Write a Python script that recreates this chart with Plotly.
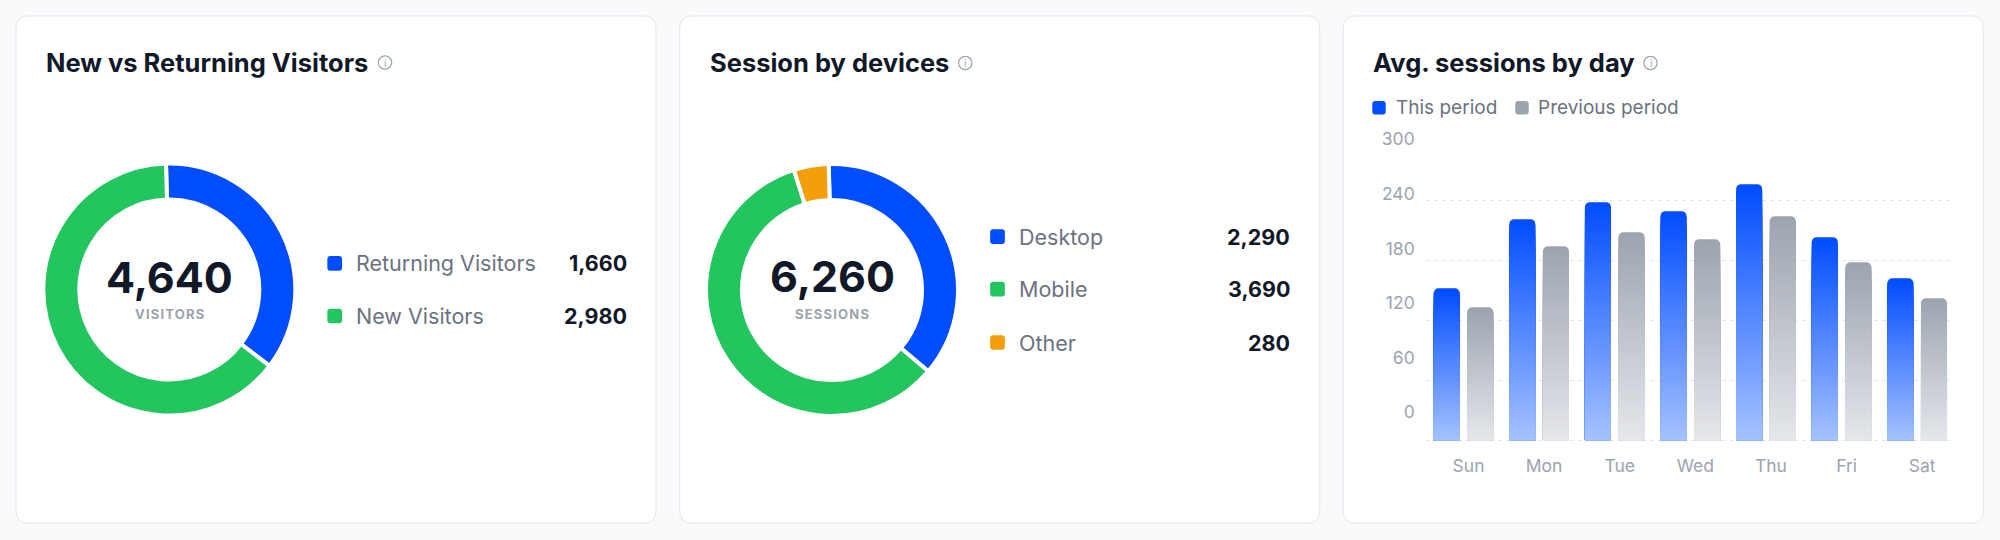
import plotly.graph_objects as go

W, H = 2000, 540

# ---------------- data ----------------
visitor_labels = ["Returning Visitors", "New Visitors"]
visitor_values = [1660, 2980]
device_labels = ["Desktop", "Mobile", "Other"]
device_values = [2290, 3690, 280]
days = ["Sun", "Mon", "Tue", "Wed", "Thu", "Fri", "Sat"]
this_period = [152, 221, 238, 229, 256, 203, 162]
previous_period = [133, 194, 208, 201, 224, 178, 142]
y_ticks = [0, 60, 120, 180, 240, 300]

# ---------------- style ----------------
BLUE = "#004cff"
GREEN = "#22c55e"
ORANGE = "#f59e0b"
GRAY = "#9ca3af"
TITLE_C = "#111827"
LABEL_C = "#6b7280"
FONT = "Inter"


def px(x):
    return x / W


def py(y):
    return 1 - y / H


def rrect_path(x0, y0, x1, y1, r):
    pts = [
        ("M", [(x0 + r, y0)]), ("L", [(x1 - r, y0)]), ("Q", [(x1, y0), (x1, y0 + r)]),
        ("L", [(x1, y1 - r)]), ("Q", [(x1, y1), (x1 - r, y1)]), ("L", [(x0 + r, y1)]),
        ("Q", [(x0, y1), (x0, y1 - r)]), ("L", [(x0, y0 + r)]), ("Q", [(x0, y0), (x0 + r, y0)]),
    ]
    s = ""
    for cmd, ps in pts:
        s += cmd + " " + " ".join(f"{px(a):.6f},{py(b):.6f}" for a, b in ps) + " "
    return s + "Z"


shapes = []
annotations = []


def ann(x, y, text, size, color, weight=400, xanchor="left"):
    annotations.append(dict(
        x=px(x), y=py(y), xref="paper", yref="paper", text=text, showarrow=False,
        xanchor=xanchor, yanchor="middle", borderpad=0,
        font=dict(family=FONT, size=size, color=color, weight=weight)))


def square(cx, cy, s, color, r=3):
    shapes.append(dict(type="path", xref="paper", yref="paper", layer="above",
                       path=rrect_path(cx - s / 2, cy - s / 2, cx + s / 2, cy + s / 2, r),
                       fillcolor=color, line=dict(width=0)))


def info_icon(cx, cy):
    r = 6.7
    shapes.append(dict(type="circle", xref="paper", yref="paper", layer="above",
                       x0=px(cx - r), x1=px(cx + r), y0=py(cy + r), y1=py(cy - r),
                       line=dict(color=GRAY, width=1.2), fillcolor="rgba(0,0,0,0)"))
    ann(cx, cy + 0.5, "i", 10, GRAY, 400, "center")


# cards
card_x = [16, 679.7, 1343.3]
for cx0 in card_x:
    shapes.append(dict(type="path", xref="paper", yref="paper", layer="below",
                       path=rrect_path(cx0, 16, cx0 + 640, 523, 12),
                       fillcolor="#ffffff", line=dict(color="#e5e7eb", width=1)))

fig = go.Figure()

# ---------------- donuts ----------------
LW = 4
R_OUT = 124 + LW / 2
HOLE = (92 - LW / 2) / R_OUT


def donut(values, labels, colors, cx, cy):
    fig.add_trace(go.Pie(
        values=values, labels=labels, sort=False, direction="clockwise", rotation=-1.5,
        hole=HOLE, textinfo="none", showlegend=False, automargin=False,
        marker=dict(colors=colors, line=dict(color="#ffffff", width=LW)),
        domain=dict(x=[px(cx - R_OUT), px(cx + R_OUT)], y=[py(cy + R_OUT), py(cy - R_OUT)])))


donut(visitor_values, visitor_labels, [BLUE, GREEN], 169.3, 289.5)
donut(device_values, device_labels, [BLUE, GREEN, ORANGE], 832, 290)

# titles
ann(45, 62.5, "New vs Returning Visitors", 25.5, TITLE_C, 700)
info_icon(385, 62.5)
ann(708.5, 62.5, "Session by devices", 25.5, TITLE_C, 700)
info_icon(965.3, 63)
ann(1372, 62.5, "Avg. sessions by day", 25.5, TITLE_C, 700)
info_icon(1650.5, 63)

# donut centers
ann(169.5, 277, f"{sum(visitor_values):,}", 43, TITLE_C, 700, "center")
ann(169.5, 314, '<span style="letter-spacing:1.2px">VISITORS</span>', 13, GRAY, 700, "center")
ann(832, 275.5, f"{sum(device_values):,}", 43, TITLE_C, 700, "center")
ann(832, 314, '<span style="letter-spacing:1.2px">SESSIONS</span>', 13, GRAY, 700, "center")

# donut legends
rows1 = [263.3, 316]
for lab, val, col, yy in zip(visitor_labels, visitor_values, [BLUE, GREEN], rows1):
    square(334.7, yy, 14.7, col)
    ann(355, yy, lab, 21.5, LABEL_C, 400)
    ann(627.5, yy, f"{val:,}", 21.5, TITLE_C, 700, "right")

rows2 = [236.7, 289.2, 342.5]
for lab, val, col, yy in zip(device_labels, device_values, [BLUE, GREEN, ORANGE], rows2):
    square(997.5, yy, 14.7, col)
    ann(1018.3, yy, lab, 21.5, LABEL_C, 400)
    ann(1290.7, yy, f"{val:,}", 21.5, TITLE_C, 700, "right")

# bar legend
square(1379, 107.8, 13.4, BLUE)
ann(1395, 107.8, "This period", 19, LABEL_C, 400)
square(1522, 107.8, 13.4, GRAY)
ann(1537.3, 107.8, "Previous period", 19, LABEL_C, 400)

# ---------------- gradient bars ----------------


def hex2rgb(h):
    h = h.lstrip("#")
    return tuple(int(h[i:i + 2], 16) for i in (0, 2, 4))


def lerp(c0, c1, t):
    return "rgb(%d,%d,%d)" % tuple(round(a + (b - a) * t) for a, b in zip(c0, c1))


N = 40
series = [
    ("This period", this_period, hex2rgb(BLUE), (166, 194, 255), "this"),
    ("Previous period", previous_period, hex2rgb(GRAY), (229, 231, 235), "prev"),
]
for name, vals, ctop, cbot, grp in series:
    for k in range(N):
        frac = (N - k) / N
        t = (k + 0.5) / N
        fig.add_trace(go.Bar(
            x=days, y=[v * frac for v in vals], name=name, offsetgroup=grp,
            marker=dict(color=lerp(ctop, cbot, t), cornerradius=5, line=dict(width=0)),
            showlegend=False, hoverinfo="skip" if k else "x+y",
            xaxis="x", yaxis="y"))

fig.add_trace(go.Scatter(x=[], y=[], xaxis="x", yaxis="y2", showlegend=False, hoverinfo="skip"))

# y axis geometry: gridlines 0 at 440.3px, 300 at 140.1px
y_bot, y_top = 441.3, 139.1
lab_scale = (412.3 - 139.1) / 300.2
y2_r1 = 300.2
y2_r0 = -(y_bot - 412.3) / lab_scale

fig.update_layout(
    width=W, height=H, margin=dict(l=0, r=0, t=0, b=0, pad=0, autoexpand=False),
    paper_bgcolor="#f9fafb", plot_bgcolor="rgba(0,0,0,0)",
    barmode="group", bargap=0.111, bargroupgap=0.226,
    shapes=shapes, annotations=annotations, showlegend=False,
    xaxis=dict(domain=[px(1425.7), px(1955)], type="category", anchor="y", automargin=False,
               showgrid=False, zeroline=False, showline=False, ticks="",
               tickfont=dict(family=FONT, size=17.5, color=GRAY),
               ticklabelstandoff=12, ticklabelshift=5),
    yaxis=dict(domain=[py(y_bot), py(y_top)], range=[-1, 301], anchor="x", automargin=False,
               tickvals=y_ticks, showticklabels=False, showgrid=True,
               gridcolor="#e5e7eb", gridwidth=1, griddash="4px,4px",
               zeroline=False, showline=False, ticks=""),
    yaxis2=dict(overlaying="y", anchor="x", side="left", range=[y2_r0, y2_r1], automargin=False,
                tickvals=y_ticks, showgrid=False, zeroline=False, showline=False, ticks="",
                tickfont=dict(family=FONT, size=17.5, color=GRAY), ticklabelstandoff=10),
    hovermode="closest",
)

fig.write_html("out.html", config={"displayModeBar": False},
               post_script="document.body.style.margin='0';")
